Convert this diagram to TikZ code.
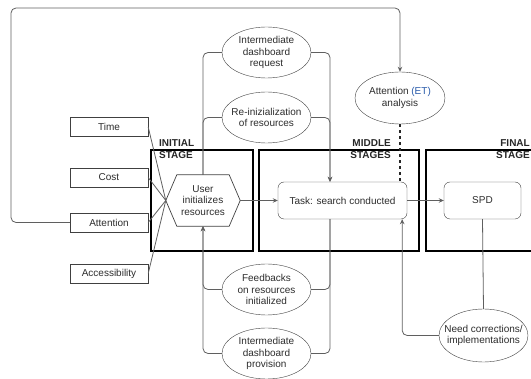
\documentclass[tikz,border=0pt]{standalone}
\usepackage{fontspec}
\setmainfont{Liberation Sans}
\usetikzlibrary{arrows.meta,positioning,calc,shapes.geometric}
\definecolor{etblue}{RGB}{40,90,170}
\definecolor{txtgray}{RGB}{45,45,45}
\definecolor{linegray}{RGB}{95,95,95}

\begin{document}
\begin{tikzpicture}[x=1pt,y=-1pt,
    every node/.style={font=\fontsize{10}{11.5}\selectfont, text=txtgray},
    factor/.style={draw=black!75, fill=white, minimum width=78pt, minimum height=19pt, inner sep=0pt},
    ell/.style={ellipse, draw=black!75, fill=white, minimum width=89pt, minimum height=51pt, inner sep=0pt},
    lbl/.style={align=center, inner sep=0pt},
    roundbox/.style={draw=black!75, fill=white, rounded corners=6pt, minimum height=37pt, inner sep=0pt},
    stage/.style={draw=black, line width=2pt, inner sep=0pt},
    stagelbl/.style={font=\fontsize{10}{12}\selectfont\bfseries, text=black!85, inner sep=0pt},
    conn/.style={draw=linegray, line width=0.8pt, rounded corners=5pt},
    arr/.style={-{Stealth[length=5pt,width=4.5pt]}}
]
    \useasboundingbox (0,0) rectangle (531,379);
    \clip (0,0) rectangle (531,379);

    % Stages
    \node[stage, minimum width=102pt, minimum height=101pt] (initial) at (202,200.5) {};
    \node[stage, minimum width=160pt, minimum height=101pt] (middle) at (339,200.5) {};
    \node[stage, minimum width=114pt, minimum height=101pt] (final) at (483,200.5) {};
    \node[stagelbl, anchor=north west, align=left] (initlbl) at (159,139) {INITIAL\\STAGE};
    \node[stagelbl, anchor=north east, align=right] (midlbl) at (391,139) {MIDDLE\\STAGES};
    \node[stagelbl, anchor=north east, align=right] (finlbl) at (530,139) {FINAL\\STAGE};

    % Factors
    \node[factor] (time) at (109,127) {Time};
    \node[factor] (cost) at (109,177.5) {Cost};
    \node[factor] (attn) at (109,222.5) {Attention};
    \node[factor] (access) at (109,273.5) {Accessibility};

    % User initializes resources
    \node[minimum width=74pt, minimum height=51pt, inner sep=0pt, align=center] (user) at (203,200.5) {User\\initializes\\resources};
    \draw[draw=black!75, line width=0.7pt] (user.west) -- ($(user.north west)+(11,0)$) -- ($(user.north east)+(-11,0)$)
        -- (user.east) -- ($(user.south east)+(-11,0)$) -- ($(user.south west)+(11,0)$) -- cycle;

    % Task and SPD
    \node[roundbox, minimum width=129pt] (task) at (342.5,200.5) {Task: search conducted};
    \node[roundbox, minimum width=77pt] (spd) at (482.5,200.5) {SPD};

    % Ellipses
    \node[ell, label={[lbl]center:Intermediate\\dashboard\\request}] (req) at (266.5,52.5) {};
    \node[ell, label={[lbl]center:Re-inizialization\\of resources}] (reinit) at (266.5,117.5) {};
    \node[ell, minimum width=90pt, minimum height=52pt,
        label={[lbl]center:Attention {\color{etblue}(ET)}\\analysis}] (attet) at (400,98) {};
    \node[ell, label={[lbl]center:Feedbacks\\on resources\\initialized}] (feed) at (266.5,289.5) {};
    \node[ell, label={[lbl]center:Intermediate\\dashboard\\provision}] (prov) at (266.5,353.5) {};
    \node[ell, minimum height=53pt, label={[lbl]center:Need corrections/\\implementations}] (need) at (483.5,335.5) {};

    \coordinate (taskin) at ($(task.north)+(-12.5,0)$);
    \coordinate (taskout) at ($(task.south)+(-12.5,0)$);
    \coordinate (taskfix) at ($(task.south east)+(-5,0)$);

    % Factors into the user
    \foreach \f in {time,cost,attn,access}
        \draw[conn] (\f.east) -- (user.west);

    % Attention loop
    \draw[conn, arr] (attn.west) -| (11,8) -| (attet.north);

    % Requests and feedbacks
    \draw[conn] (req.west) -| (user.north);
    \draw[conn] (reinit.west) -| (user.north);
    \draw[conn, arr] (req.east) -| (taskin);
    \draw[conn, arr] (reinit.east) -| (taskin);
    \draw[conn, arr] (feed.west) -| (user.south);
    \draw[conn, arr] (prov.west) -| (user.south);
    \draw[conn] (feed.east) -| (taskout);
    \draw[conn] (prov.east) -| (taskout);

    % Main flow
    \draw[conn, arr] (user.east) -- (task.west);
    \draw[conn, arr] (task.east) -- (spd.west);
    \draw[draw=black!85, line width=1.6pt, dash pattern=on 3pt off 3pt] (attet.south) -- (attet.south |- task.north);
    \draw[conn] (spd.south) -- (need.north);
    \draw[conn, arr] (need.west) -| (taskfix);
\end{tikzpicture}
\end{document}
